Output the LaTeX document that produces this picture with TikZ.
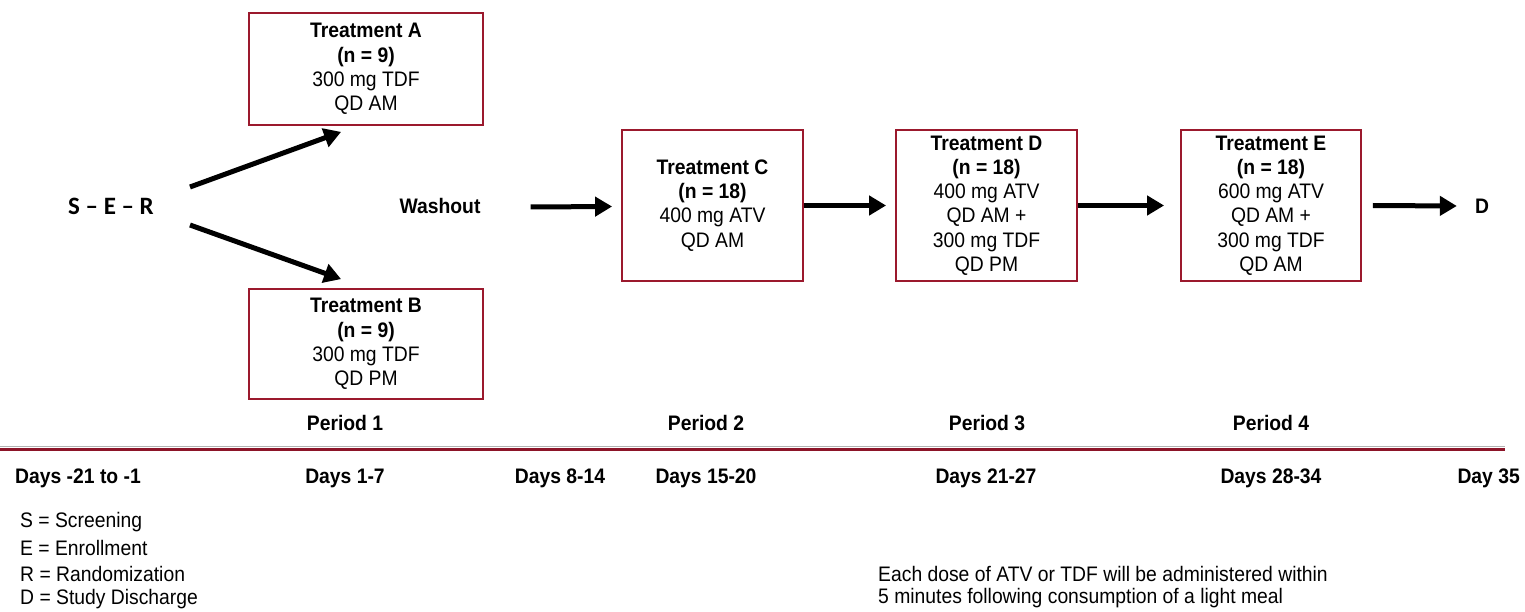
\documentclass[tikz,border=0pt]{standalone}
\usepackage{fontspec}
\setmainfont[FakeStretch=0.92]{Liberation Sans}
\newfontfamily\serfont[Ligatures=TeX]{Carlito}
\usetikzlibrary{arrows.meta,calc}
\definecolor{boxred}{RGB}{155,25,45}
\definecolor{linered}{RGB}{140,20,40}
\tikzset{
  every node/.style={font=\fontsize{21}{24.2}\selectfont, inner sep=0pt},
  tbox/.style={draw=boxred, line width=1.8pt, align=center, minimum height=#1},
  lbl/.style={font=\fontsize{21}{24.2}\selectfont\bfseries},
  txt/.style={font=\fontsize{21}{24.2}\selectfont, anchor=west},
  arr/.style={line width=5pt, -{Triangle[length=17pt,width=19pt]}}
}
\begin{document}
\begin{tikzpicture}[x=1pt,y=-1pt]
\useasboundingbox (0,0) rectangle (1525,612);
% boxes
\node[tbox=112pt, minimum width=234pt] (A) at (366,69) {\textbf{Treatment A}\\\textbf{(n = 9)}\\300 mg TDF\\QD AM};
\node[tbox=110pt, minimum width=234pt] (B) at (366,344) {\textbf{Treatment B}\\\textbf{(n = 9)}\\300 mg TDF\\QD PM};
\node[tbox=151pt, minimum width=181pt] (C) at (712.5,205.5) {\textbf{Treatment C}\\\textbf{(n = 18)}\\400 mg ATV\\QD AM};
\node[tbox=151pt, minimum width=181pt] (D) at (986.5,205.5) {\textbf{Treatment D}\\\textbf{(n = 18)}\\400 mg ATV\\QD AM +\\300 mg TDF\\QD PM};
\node[tbox=151pt, minimum width=180pt] (E) at (1271,205.5) {\textbf{Treatment E}\\\textbf{(n = 18)}\\600 mg ATV\\QD AM +\\300 mg TDF\\QD AM};
% labels
\node[font=\serfont\fontsize{25}{28}\selectfont\bfseries] (ser) at (111,206) {S – E – R};
\node[lbl] (wash) at (440,206) {Washout};
\node[lbl] (dend) at (1482,206) {D};
% arrows
\draw[arr] ($(ser.east)+(36,-19)$) -- ($(A.south west)+(93,6)$);
\draw[arr] ($(ser.east)+(36,19)$) -- ($(B.north west)+(93,-9)$);
\draw[arr] ($(wash.east)+(50,1)$) -- ($(C.west)+(-9,1)$);
\draw[arr] (C.east) -- ($(D.west)+(-9,0)$);
\draw[arr] (D.east) -- ($(E.west)+(-16,0)$);
\draw[arr] ($(E.east)+(11,0)$) -- ($(dend.west)+(-18,0)$);
% timeline
\coordinate (l0) at (0,449);
\coordinate (l1) at (1505,449);
\draw[gray!60, line width=1pt] ($(l0)+(0,-2.5)$) -- ($(l1)+(0,-2.5)$);
\draw[linered, line width=3pt] (l0) -- (l1);
\node[lbl] (p1) at (345,423) {Period 1};
\node[lbl] (p2) at (706,423) {Period 2};
\node[lbl] (p3) at (987,423) {Period 3};
\node[lbl] (p4) at (1271,423) {Period 4};
\node[lbl, anchor=west] (d0) at (15,478) {Days -21 to -1};
\node[lbl] (d1) at (345,478) {Days 1-7};
\node[lbl] (d2) at (560,478) {Days 8-14};
\node[lbl] (d3) at (706,478) {Days 15-20};
\node[lbl] (d4) at (986,478) {Days 21-27};
\node[lbl] (d5) at (1271,478) {Days 28-34};
\node[lbl, anchor=east] (d6) at (1520,478) {Day 35};
% legend
\node[txt] (s) at (20,522) {S = Screening};
\node[txt] (e) at (20,548) {E = Enrollment};
\node[txt] (r) at (20,574) {R = Randomization};
\node[txt] (dd) at (20,599) {D = Study Discharge};
\node[txt] (n1) at (878,574) {Each dose of ATV or TDF will be administered within};
\node[txt] (n2) at (878,598) {5 minutes following consumption of a light meal};
\end{tikzpicture}
\end{document}
